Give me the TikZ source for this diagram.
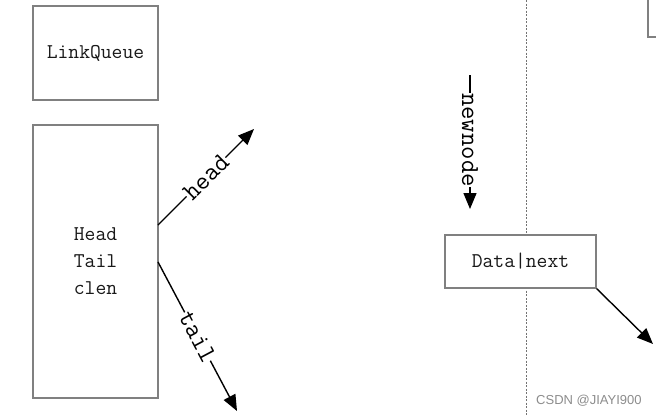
\documentclass[tikz,border=0pt]{standalone}
\usepackage{fontspec}
\newfontfamily\wmfont{Liberation Sans}
\usetikzlibrary{arrows.meta}
\tikzset{
  boxst/.style={draw=black!50, line width=1.1pt, fill=white, inner sep=0pt},
  maintext/.style={font=\ttfamily\fontsize{21}{27}\selectfont, text=black!90},
  lbl/.style={font=\ttfamily\fontsize{26}{28}\selectfont, text=black, fill=white, inner sep=0.5pt},
  arr/.style={line width=1.4pt, -{Triangle[length=16pt,width=13pt]}},
  sep/.style={draw=black!55, line width=0.8pt, dash pattern=on 2pt off 1.5pt}
}
\begin{document}
\begin{tikzpicture}[x=1pt,y=-1pt]
\useasboundingbox (0,0) rectangle (656,416);
% dotted separator
\draw[sep] (526,0) coordinate (st) -- (526,416) coordinate (sb);
% LinkQueue
\node[boxst, minimum width=125pt, minimum height=94pt] (lq) at (95.5,53) {};
\node[maintext] (lqt) at (95.5,53) {LinkQueue};
% big box
\node[boxst, minimum width=125pt, minimum height=273pt] (qb) at (95.5,261.5) {};
\node[maintext, align=left] (qbt) at (95.5,261) {Head\\Tail\\clen};
% head/tail arrows
\coordinate (hs) at (158,225);
\coordinate (he) at (254,129);
\coordinate (ts) at (158,262);
\coordinate (te) at (237,411);
\draw[arr] (hs) -- node[lbl, sloped, pos=0.5] (hl) {head} (he);
\draw[arr] (ts) -- node[lbl, sloped, pos=0.5] (tl) {tail} (te);
% newnode arrow
\coordinate (ns) at (470,75);
\coordinate (ne) at (470,209);
\draw[arr] (ns) -- (ne);
\node[lbl, rotate=-90] (nl) at (470,140) {newnode};
% Data|next
\node[boxst, minimum width=151pt, minimum height=53pt] (dn) at (520.5,261.5) {};
\node[maintext] (dnt) at (520.5,261) {Data|next};
\coordinate (de) at (653,344);
\draw[arr] (dn.south east) -- (de);
% partial box top right
\draw[draw=black!50, line width=1.1pt] (648,0) coordinate (pa) -- (648,37) coordinate (pb) -- (656,37) coordinate (pc);
% watermark
\node[font=\wmfont\fontsize{13}{15}\selectfont, text=black!45, anchor=west, inner sep=0pt] (wm) at (536,401) {CSDN @JIAYI900};
\end{tikzpicture}
\end{document}
